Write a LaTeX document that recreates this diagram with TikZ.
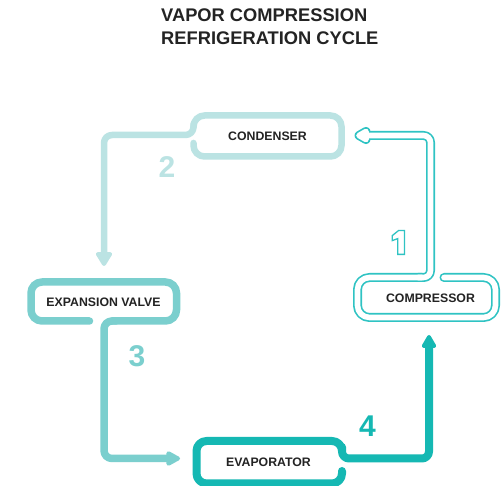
\documentclass[tikz,border=0pt]{standalone}
\usepackage{fontspec}
\setmainfont{Liberation Sans}
\usetikzlibrary{arrows.meta}
\definecolor{ink}{HTML}{232323}
\definecolor{cone}{HTML}{2FC3C3}
\definecolor{ctwo}{HTML}{BBE3E3}
\definecolor{cthree}{HTML}{7BCFCE}
\definecolor{cfour}{HTML}{15B8B3}
\begin{document}
\begin{tikzpicture}[x=1pt,y=-1pt,
  pipe/.style={line cap=round,line join=round},
  lbl/.style={font=\bfseries\fontsize{12.3}{14}\selectfont,text=ink,inner sep=0pt},
  num/.style={font=\bfseries\fontsize{30}{32}\selectfont,inner sep=0pt},
  ttl/.style={font=\bfseries\fontsize{18.3}{22}\selectfont,text=ink,inner sep=0pt,anchor=base west}]
\useasboundingbox (0,0) rectangle (504,486);
\clip (0,0) rectangle (504,486);
\fill[white] (0,0) rectangle (504,486);

% title
\node[ttl] (t1) at (161,21.7) {VAPOR COMPRESSION};
\node[ttl] (t2) at (161,45) {REFRIGERATION CYCLE};

% arrow end points
\coordinate (tip2) at (104,266);
\coordinate (tip3) at (180,458.5);
\coordinate (tip4) at (429,335);

% condenser (2)
\draw[pipe,ctwo,line width=6.5pt,rounded corners=11pt]
  (193.5,143) -- (193.5,156.5) -- (341.5,156.5) -- (341.5,115.5) -- (193.5,115.5) -- (193.5,127);
\draw[pipe,ctwo,line width=6.5pt,rounded corners=8pt,-{Triangle[width=18pt,length=16pt,round]}]
  (193.5,124) -- (193.5,135) -- (104,135) -- (tip2);

% expansion valve (3)
\draw[pipe,cthree,line width=7.5pt,rounded corners=11pt]
  (89.5,321) -- (31,321) -- (31,282) -- (176.5,282) -- (176.5,321) -- (112,321);
\draw[pipe,cthree,line width=7.5pt,rounded corners=8pt,-{Triangle[width=16pt,length=16pt,round]}]
  (116,321) -- (104,321) -- (104,458.5) -- (tip3);

% evaporator (4)
\draw[pipe,cfour,line width=8pt,rounded corners=10pt]
  (342,471) -- (342,483.5) -- (196.5,483.5) -- (196.5,441) -- (342,441) -- (342,451);
\draw[pipe,cfour,line width=8pt,rounded corners=7pt,-{Triangle[width=16pt,length=15pt,round]}]
  (342,447) -- (342,458.5) -- (429,458.5) -- (tip4);

% compressor (1) : outlined pipe
\foreach \w/\c in {9pt/cone,5.6pt/white}{
  \draw[pipe,\c,line width=\w,rounded corners=12pt]
    (444,277.5) -- (495.5,277.5) -- (495.5,317.5) -- (357.5,317.5) -- (357.5,277.5) -- (422,277.5);
  \draw[pipe,\c,line width=\w,rounded corners=7pt]
    (418,277.5) -- (430.5,277.5) -- (430.5,135.5) -- (366,135.5);
  \filldraw[pipe,\c,line width=\w] (359,135.5) -- (366,131.5) -- (366,139.5) -- cycle;
}

% labels
\node[lbl] (cond) at (267.5,136) {CONDENSER};
\node[lbl] (expv) at (103.5,302.5) {EXPANSION VALVE};
\node[lbl] (comp) at (430.5,298) {COMPRESSOR};
\node[lbl] (evap) at (268.5,462.5) {EVAPORATOR};

% numbers
\node[num,text=ctwo] (n2) at (167,167.5) {2};
\node[num,text=cthree] (n3) at (137,356.5) {3};
\node[num,text=cfour] (n4) at (367.5,426.5) {4};
\draw[cone,line width=1.3pt,line join=miter,fill=white]
  (398.5,230.6) -- (404.4,230.6) -- (404.4,254.4) -- (397.8,254.4) -- (397.8,238.6)
  -- (392.3,240.6) -- (392.3,235.6) -- cycle;
\end{tikzpicture}
\end{document}
